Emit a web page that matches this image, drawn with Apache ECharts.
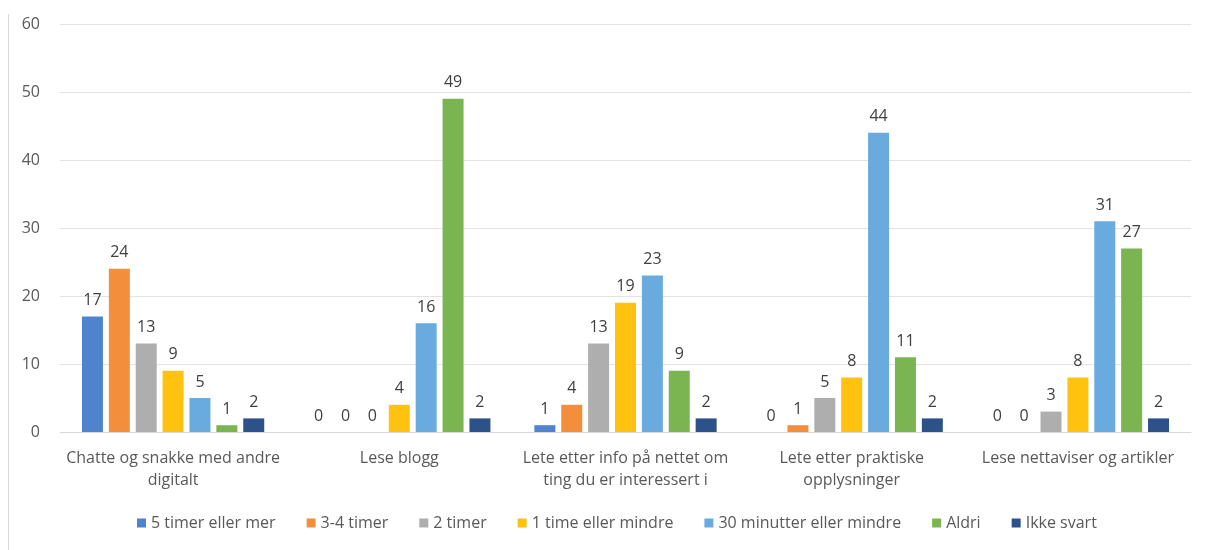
<!DOCTYPE html>
<html>
<head>
<meta charset="utf-8">
<script src="https://cdn.jsdelivr.net/npm/echarts@6/dist/echarts.min.js"></script>
<style>
  html, body { margin: 0; padding: 0; background: #fff; }
  #chart { width: 1213px; height: 550px; }
</style>
</head>
<body>
<div id="chart"></div>
<script>
// Activities (x axis categories)
const categories = [
  'Chatte og snakke med andre\ndigitalt',
  'Lese blogg',
  'Lete etter info på nettet om\nting du er interessert i',
  'Lete etter praktiske\nopplysninger',
  'Lese nettaviser og artikler'
];

// Time spent (series names)
const seriesNames = [
  '5 timer eller mer', '3-4 timer', '2 timer', '1 time eller mindre',
  '30 minutter eller mindre', 'Aldri', 'Ikke svart'
];

// Counts per series, in category order
const fiveHoursOrMore = [17, 0, 1, 0, 0];
const threeToFourHours = [24, 0, 4, 1, 0];
const twoHours = [13, 0, 13, 5, 3];
const oneHourOrLess = [9, 4, 19, 8, 8];
const thirtyMinOrLess = [5, 16, 23, 44, 31];
const never = [1, 49, 9, 11, 27];
const noAnswer = [2, 2, 2, 2, 2];

const yTicks = [0, 10, 20, 30, 40, 50, 60];

const seriesData = [fiveHoursOrMore, threeToFourHours, twoHours, oneHourOrLess,
  thirtyMinOrLess, never, noAnswer];
const colors = ['#4f83cd', '#f38e3d', '#aeaeae', '#ffc20e', '#6aabdf', '#7ab551', '#2c5289'];

const textColor = '#595959';
const font = 'Open Sans';

const chart = echarts.init(document.getElementById('chart'), null, { renderer: 'canvas' });

chart.setOption({
  animation: false,
  backgroundColor: '#ffffff',
  textStyle: { fontFamily: font },
  graphic: [{
    type: 'line',
    shape: { x1: 8.5, y1: 14, x2: 8.5, y2: 550 },
    style: { stroke: '#d9d9d9', lineWidth: 1 }
  }],
  grid: { left: 60, right: 22, top: 24, bottom: 118, containLabel: false },
  legend: {
    bottom: 14,
    left: 132,
    itemWidth: 9,
    itemHeight: 9,
    itemGap: 31,
    icon: 'rect',
    textStyle: { color: textColor, fontSize: 16, fontFamily: font, padding: [0, 0, 0, 0] },
    data: seriesNames
  },
  xAxis: {
    type: 'category',
    data: categories,
    axisLine: { lineStyle: { color: '#d9d9d9', width: 1 } },
    axisTick: { show: false },
    axisLabel: { color: textColor, fontSize: 16, fontFamily: font, margin: 15, lineHeight: 22, interval: 0 }
  },
  yAxis: {
    type: 'value',
    min: yTicks[0],
    max: yTicks[yTicks.length - 1],
    interval: 10,
    axisLine: { show: false },
    axisTick: { show: false },
    splitLine: { lineStyle: { color: '#e3e3e3', width: 1 } },
    axisLabel: { color: textColor, fontSize: 16, fontFamily: font, margin: 20 }
  },
  series: seriesNames.map((name, i) => ({
    name: name,
    type: 'bar',
    data: seriesData[i],
    barWidth: 21,
    barGap: '28%',
    itemStyle: { color: colors[i] },
    label: {
      show: true,
      position: 'top',
      distance: 8,
      color: '#404040',
      fontSize: 16,
      fontFamily: font
    }
  }))
});
</script>
</body>
</html>
